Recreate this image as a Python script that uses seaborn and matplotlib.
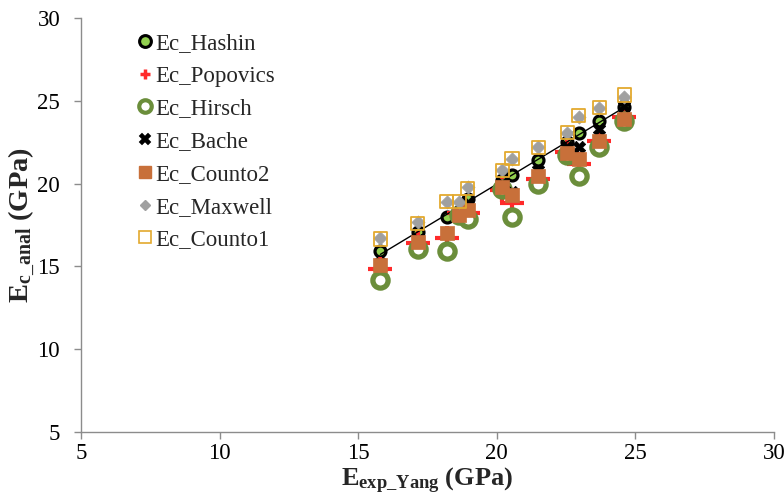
import numpy as np
import pandas as pd
import matplotlib
matplotlib.use("Agg")
import matplotlib.pyplot as plt
import seaborn as sns
from matplotlib.lines import Line2D

# ---- data ----
x_exp = [15.8, 17.15, 18.2, 18.65, 18.95, 20.2, 20.55, 21.5, 22.55, 22.95, 23.7, 24.6]
ec_hashin   = [15.9, 17.1, 18.0, 18.3, 19.1, 20.2, 20.5, 21.4, 22.5, 23.05, 23.75, 24.6]
ec_popovics = [14.85, 16.4, 16.7, 18.2, 18.2, 19.6, 18.8, 20.3, 21.9, 21.2, 22.6, 24.0]
ec_hirsch   = [14.15, 16.05, 15.9, 18.1, 17.85, 19.65, 18.0, 19.95, 21.75, 20.45, 22.2, 23.8]
ec_bache    = [15.2, 16.6, 17.0, 18.3, 18.8, 20.0, 19.5, 20.8, 22.2, 22.2, 23.3, 24.7]
ec_counto2  = [15.1, 16.5, 17.0, 18.1, 18.4, 19.8, 19.3, 20.45, 21.85, 21.5, 22.6, 23.9]
ec_maxwell  = [16.7, 17.7, 18.9, 18.9, 19.8, 20.8, 21.5, 22.2, 23.05, 24.0, 24.55, 25.2]
ec_counto1  = [16.65, 17.6, 18.9, 18.9, 19.7, 20.8, 21.5, 22.2, 23.1, 24.1, 24.6, 25.35]

series_names = ["Ec_Hashin", "Ec_Popovics", "Ec_Hirsch", "Ec_Bache",
                "Ec_Counto2", "Ec_Maxwell", "Ec_Counto1"]
series_vals = [ec_hashin, ec_popovics, ec_hirsch, ec_bache,
               ec_counto2, ec_maxwell, ec_counto1]
ticks = [5, 10, 15, 20, 25, 30]

df = pd.DataFrame({"x": x_exp * len(series_names),
                   "y": sum(series_vals, []),
                   "series": np.repeat(series_names, len(x_exp))})

# ---- style ----
sns.set_style("white")
plt.rcParams["font.family"] = ["Liberation Serif", "DejaVu Serif"]
plt.rcParams["mathtext.fontset"] = "custom"
plt.rcParams["mathtext.rm"] = "Liberation Serif"
plt.rcParams["mathtext.bf"] = "Liberation Serif:bold"
plt.rcParams["mathtext.it"] = "Liberation Serif:italic"

GREEN = "#92D050"
RED = "#FF2A2A"
OLIVE = "#6B8E3B"
ORANGE = "#C8703A"
GRAY = "#A0A0A0"
GOLD = "#E3A92E"
AXC = "#8C8C8C"

styles = {
    "Ec_Hashin":   dict(marker="o", s=62, color=GREEN, edgecolor="black", linewidth=2.3),
    "Ec_Popovics": dict(marker="+", s=300, color=RED, linewidth=3.0),
    "Ec_Hirsch":   dict(marker="o", s=120, color="white", edgecolor=OLIVE, linewidth=3.8),
    "Ec_Bache":    dict(marker="X", s=80, color="black", edgecolor="black", linewidth=0.5),
    "Ec_Counto2":  dict(marker="s", s=100, color=ORANGE, edgecolor=ORANGE, linewidth=0.5),
    "Ec_Maxwell":  dict(marker="D", s=45, color=GRAY, edgecolor=GRAY, linewidth=0.5),
    "Ec_Counto1":  dict(marker="s", s=90, color="none", edgecolor=GOLD, linewidth=1.3),
}

fig = plt.figure(figsize=(7.84, 4.98), dpi=100)
ax = fig.add_axes([81 / 784, 1 - 432 / 498, (774 - 81) / 784, (432 - 18) / 498])

for i, name in enumerate(series_names):
    sub = df[df["series"] == name]
    sns.scatterplot(data=sub, x="x", y="y", ax=ax, zorder=3 + i,
                    legend=False, **styles[name])

# trend line
sns.regplot(x=x_exp, y=ec_hashin, ax=ax, scatter=False, ci=None, truncate=True,
            line_kws=dict(color="black", linewidth=1.0, zorder=4.5))

ax.set_xlim(5, 30)
ax.set_ylim(5, 30)
ax.set_xticks(ticks)
ax.set_yticks(ticks)
ax.set_xticklabels([str(t) for t in ticks])
ax.set_yticklabels([str(t) for t in ticks])
ax.tick_params(axis="both", labelsize=16.5, colors="black", length=5, width=1,
               direction="out", color=AXC)
ax.tick_params(axis="x", bottom=True, pad=3)
ax.tick_params(axis="y", left=True, pad=10)
for sp in ["top", "right"]:
    ax.spines[sp].set_visible(False)
for sp in ["left", "bottom"]:
    ax.spines[sp].set_color(AXC)
    ax.spines[sp].set_linewidth(1.0)

ax.set_xlabel(r"$\mathbf{E_{exp\_Yang}}$ (GPa)", fontsize=19, fontweight="bold", labelpad=1)
ax.set_ylabel(r"$\mathbf{E_{c\_anal}}$ (GPa)", fontsize=20.5, fontweight="bold")
ax.yaxis.set_label_coords(-0.062, 0.5)

# legend
handles = [
    Line2D([], [], ls="none", marker="o", markersize=8.5, mfc=GREEN, mec="black", mew=2.2),
    Line2D([], [], ls="none", marker="+", markersize=7.5, mec=RED, mew=2.5),
    Line2D([], [], ls="none", marker="o", markersize=9, mfc="white", mec=OLIVE, mew=3.0),
    Line2D([], [], ls="none", marker="X", markersize=8, mfc="black", mec="black", mew=0.3),
    Line2D([], [], ls="none", marker="s", markersize=8.5, mfc=ORANGE, mec=ORANGE),
    Line2D([], [], ls="none", marker="D", markersize=5.5, mfc=GRAY, mec=GRAY),
    Line2D([], [], ls="none", marker="s", markersize=8.5, mfc="none", mec=GOLD, mew=1.2),
]
fig.legend(handles, series_names, loc="upper left",
           bbox_to_anchor=(137 / 784, 1 - 33 / 498), frameon=False,
           fontsize=16.5, handlelength=0.7, handletextpad=0.12,
           labelspacing=0.51, borderpad=0, borderaxespad=0)

fig.savefig("out.png", dpi=100)
